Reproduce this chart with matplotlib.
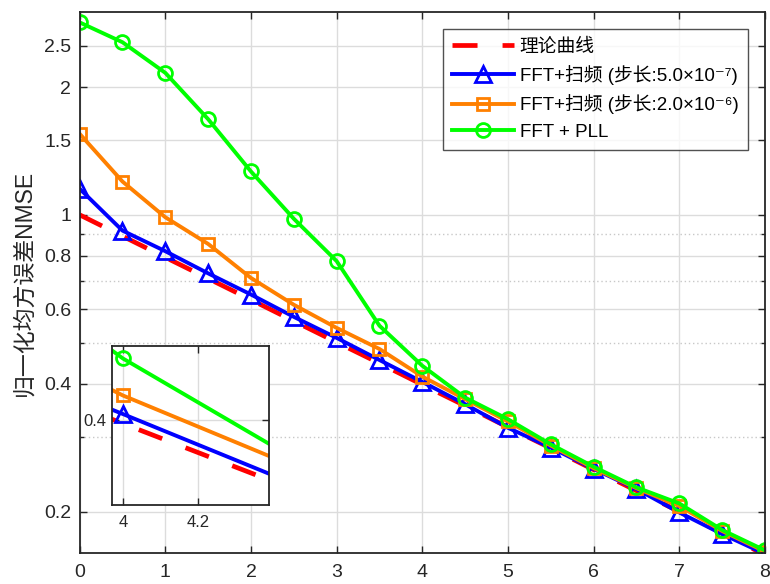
import numpy as np
import matplotlib
matplotlib.use("Agg")
import matplotlib.pyplot as plt
from matplotlib.ticker import FixedLocator, FixedFormatter, NullFormatter

plt.rcParams['font.family'] = ['Liberation Sans', 'Noto Sans CJK SC', 'DejaVu Sans']
plt.rcParams['axes.unicode_minus'] = True

# data
snr = [0, 0.5, 1, 1.5, 2, 2.5, 3, 3.5, 4, 4.5, 5, 5.5, 6, 6.5, 7, 7.5, 8]
theory = [1.0, 0.891, 0.794, 0.708, 0.631, 0.562, 0.501, 0.447, 0.398, 0.355,
          0.316, 0.282, 0.251, 0.224, 0.200, 0.178, 0.158]
sweep_fine = [1.152, 0.918, 0.821, 0.728, 0.649, 0.575, 0.513, 0.455, 0.404, 0.358,
              0.315, 0.283, 0.252, 0.226, 0.199, 0.177, 0.159]
sweep_coarse = [1.552, 1.198, 0.987, 0.854, 0.710, 0.614, 0.5415, 0.483, 0.416, 0.368,
                0.326, 0.286, 0.253, 0.227, 0.206, 0.180, 0.161]
pll = [2.84, 2.55, 2.16, 1.68, 1.265, 0.979, 0.778, 0.548, 0.441, 0.371,
       0.330, 0.288, 0.255, 0.228, 0.209, 0.181, 0.162]

labels = ['理论曲线',
          'FFT+扫频 (步长:5.0×10⁻⁷)',
          'FFT+扫频 (步长:2.0×10⁻⁶)',
          'FFT + PLL']

yticks = [0.2, 0.4, 0.6, 0.8, 1, 1.5, 2, 2.5]
ytick_labels = ['0.2', '0.4', '0.6', '0.8', '1', '1.5', '2', '2.5']
yminor = [0.3, 0.5, 0.7, 0.9]

c_axis = '#262626'
lw = 2.8


def draw(ax, size):
    ax.plot(snr, theory, color='red', lw=lw + 0.6, dashes=(5.3, 5.3), label=labels[0])
    ax.plot(snr, sweep_fine, color='blue', lw=lw, marker='^', ms=12, mew=2,
            mfc='none', label=labels[1])
    ax.plot(snr, sweep_coarse, color='#ff8000', lw=lw, marker='s', ms=9, mew=2,
            mfc='none', label=labels[2])
    ax.plot(snr, pll, color='#00ff00', lw=lw, marker='o', ms=10, mew=2,
            mfc='none', label=labels[3])
    ax.set_yscale('log')
    for s in ax.spines.values():
        s.set_color(c_axis)
        s.set_linewidth(1.3)
    ax.tick_params(which='both', direction='in', top=True, right=True,
                   colors=c_axis, labelcolor=c_axis, labelsize=size, width=1.0)
    ax.tick_params(which='major', length=5)
    ax.tick_params(which='minor', length=3)


fig = plt.figure(figsize=(7.7, 5.84), dpi=100)
ax = fig.add_axes([0.1034, 0.0536, 0.8901, 0.9254])
draw(ax, 14)
ax.set_xlim(0, 8)
ax.set_ylim(0.16, 3)
ax.set_xticks(range(0, 9))
ax.yaxis.set_major_locator(FixedLocator(yticks))
ax.yaxis.set_major_formatter(FixedFormatter(ytick_labels))
ax.yaxis.set_minor_locator(FixedLocator(yminor))
ax.yaxis.set_minor_formatter(NullFormatter())
ax.grid(True, which='major', color='#dcdcdc', lw=1.0)
ax.grid(True, which='minor', axis='y', color='#c8c8c8', lw=1.0, ls=(0, (1, 2)))
ax.set_axisbelow(True)
ax.tick_params(axis='x', pad=8)
ax.tick_params(axis='y', pad=6)
ax.set_ylabel('归一化均方误差NMSE', fontsize=16.5, color=c_axis, labelpad=6)

leg = ax.legend(loc='upper right', bbox_to_anchor=(0.983, 0.98), fontsize=13.5,
                frameon=True, fancybox=False, handlelength=3.3,
                borderpad=0.5, labelspacing=0.5, handletextpad=0.3,
                borderaxespad=0.3)
leg.get_frame().set_edgecolor(c_axis)
leg.get_frame().set_linewidth(1.0)

# inset
axin = fig.add_axes([0.145, 0.1353, 0.2047, 0.2728])
draw(axin, 12)
axin.set_xlim(3.97, 4.39)
axin.set_ylim(0.35, 0.45)
axin.set_xticks([4, 4.2])
axin.set_xticklabels(['4', '4.2'])
axin.yaxis.set_major_locator(FixedLocator([0.4]))
axin.yaxis.set_major_formatter(FixedFormatter(['0.4']))
axin.yaxis.set_minor_locator(FixedLocator([]))
axin.tick_params(axis='x', pad=7)
axin.tick_params(axis='y', pad=4)
axin.grid(True, which='major', color='#dcdcdc', lw=1.0)
axin.set_axisbelow(True)

fig.savefig('out.png', dpi=100)
